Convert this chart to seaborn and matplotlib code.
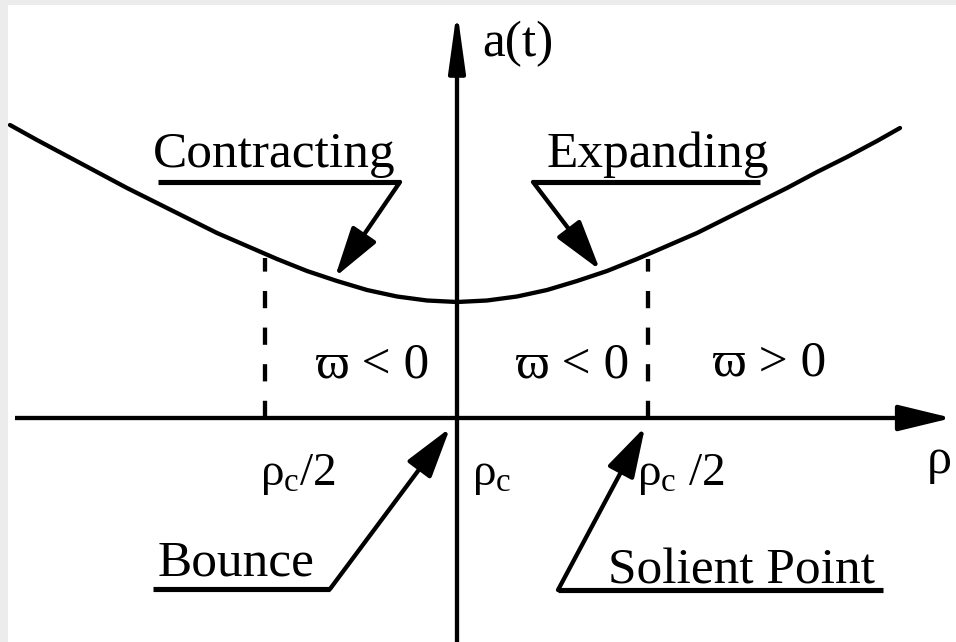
import matplotlib
matplotlib.use("Agg")
import matplotlib.pyplot as plt
import seaborn as sns
import pandas as pd

# ---- data (origin at the axes crossing, y upward) ----
rho = [-447, -420, -390, -360, -330, -300, -270, -240, -210, -180, -150,
       -120, -90, -60, -30, 0, 30, 60, 90, 120, 150, 180, 210, 240, 270,
       300, 330, 360, 390, 420, 443]
a_t = [293, 278, 262, 246, 230, 215, 200, 185, 172, 159, 147,
       137, 128, 121.5, 117.5, 116, 117.5, 121.5, 128, 137, 147, 159, 172,
       185, 200, 215, 230, 246, 261, 277, 290]
marker_rho = [-192, 191]      # rho_c/2 positions (dashed lines)
marker_top = [164, 163]       # curve height at those positions
region_labels = ["ϖ < 0", "ϖ < 0", "ϖ > 0"]
tick_labels = [r"$\rho_c$/2", r"$\rho_c$", r"$\rho_c$ /2"]
phase_labels = ["Contracting", "Expanding", "Bounce", "Solient Point"]

df = pd.DataFrame({"rho": rho, "a": a_t})

sns.set_theme(style="white")
plt.rcParams["font.family"] = ["Liberation Serif", "DejaVu Serif"]
plt.rcParams["mathtext.fontset"] = "custom"
plt.rcParams["mathtext.rm"] = "Liberation Serif"
plt.rcParams["mathtext.it"] = "Liberation Serif"
plt.rcParams["mathtext.bf"] = "Liberation Serif:bold"

W, H = 956, 642
fig = plt.figure(figsize=(W / 100, H / 100), dpi=100, facecolor="#ececec")
ax = fig.add_axes([8 / W, 0, (W - 8) / W, (H - 5) / H])
ax.set_facecolor("white")
ax.set_xlim(-449, 499)
ax.set_ylim(-224, 413)
for s in ax.spines.values():
    s.set_visible(False)
ax.set_xticks([])
ax.set_yticks([])

LW = 3.1
K = "black"

# curve
sns.lineplot(data=df, x="rho", y="a", ax=ax, color=K, lw=LW, estimator=None,
             sort=True)
ax.set_xlabel("")
ax.set_ylabel("")

# axes with arrows
ax.plot([-442, 450], [0, 0], color=K, lw=LW, solid_capstyle="butt")
ax.annotate("", xy=(495, 0), xytext=(440, 0),
            arrowprops=dict(arrowstyle="-|>,head_length=33,head_width=8",
                            mutation_scale=1, lw=LW, color=K,
                            shrinkA=0, shrinkB=0))
ax.plot([0, 0], [-224, 360], color=K, lw=LW, solid_capstyle="butt")
ax.annotate("", xy=(0, 408), xytext=(0, 350),
            arrowprops=dict(arrowstyle="-|>,head_length=36,head_width=5",
                            mutation_scale=1, lw=LW, color=K,
                            shrinkA=0, shrinkB=0))

# dashed markers
for xr, yt in zip(marker_rho, marker_top):
    ax.plot([xr, xr], [0, yt - 4], color=K, lw=LW, dashes=(4.0, 4.5))

FS = 37
# axis labels
ax.text(25, 362, "a(t)", fontsize=FS, ha="left", va="baseline", color=K)
ax.text(470, -55, "ρ", fontsize=36, ha="left", va="baseline", color=K)

# region labels
for (x, y), lab in zip([(-142, 41), (58, 41), (255, 43)], region_labels):
    ax.text(x, y, lab, fontsize=FS, ha="left", va="baseline", color=K)

# tick labels
for x, lab in zip([-197, 15, 180], tick_labels):
    ax.text(x, -67, lab, fontsize=34, ha="left", va="baseline", color=K)

# phase labels with underline + arrow
arrow_kw = dict(arrowstyle="-|>,head_length=31,head_width=9",
                mutation_scale=1, lw=LW, color=K, shrinkA=0, shrinkB=0)
specs = [
    # text pos, underline x0, x1, underline y, corner, tip
    ((-304, 251), (-299, -57), 236, (-57, 236), (-122, 141)),
    ((90, 251), (76, 303), 236, (76, 236), (143, 148)),
    ((-299, -157), (-304, -127), -171, (-127, -171), (-7, -10)),
    ((151, -165), (101, 426), -172, (101, -172), (188, -9)),
]
for lab, (tpos, (ux0, ux1), uy, corner, tip) in zip(phase_labels, specs):
    ax.text(tpos[0], tpos[1], lab, fontsize=FS, ha="left", va="baseline",
            color=K)
    ax.plot([ux0, ux1], [uy, uy], color=K, lw=LW + 0.6,
            solid_capstyle="butt")
    ax.annotate("", xy=tip, xytext=corner, arrowprops=arrow_kw)

fig.savefig("out.png", dpi=100, facecolor=fig.get_facecolor())
